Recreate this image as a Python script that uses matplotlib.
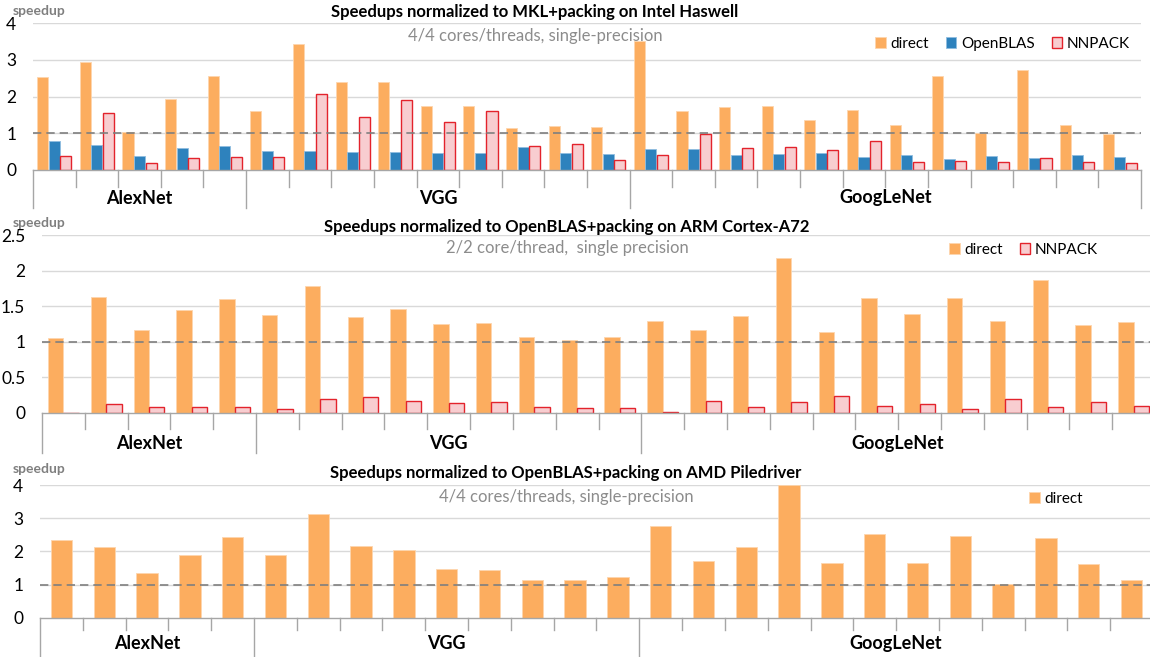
import matplotlib
matplotlib.use("Agg")
import matplotlib.pyplot as plt
import numpy as np

plt.rcParams['font.family'] = ['Lato', 'DejaVu Sans']

# 网络分组（每组的层数）
networks = ["AlexNet", "VGG", "GoogLeNet"]
layers_per_net = [5, 9, 12]

# Intel Haswell（归一化到 MKL+packing）
haswell_direct = [2.53, 2.95, 1.03, 1.94, 2.56,
                  1.61, 3.43, 2.41, 2.39, 1.75, 1.75, 1.15, 1.19, 1.17,
                  3.53, 1.62, 1.72, 1.75, 1.35, 1.64, 1.22, 2.55, 1.02, 2.72, 1.22, 0.97]
haswell_openblas = [0.79, 0.68, 0.39, 0.60, 0.65,
                    0.51, 0.51, 0.48, 0.49, 0.46, 0.47, 0.63, 0.45, 0.43,
                    0.57, 0.58, 0.41, 0.44, 0.46, 0.35, 0.41, 0.29, 0.38, 0.33, 0.41, 0.36]
haswell_nnpack = [0.37, 1.56, 0.18, 0.32, 0.36,
                  0.35, 2.06, 1.44, 1.91, 1.30, 1.61, 0.65, 0.71, 0.26,
                  0.41, 0.99, 0.61, 0.63, 0.54, 0.78, 0.22, 0.25, 0.21, 0.32, 0.23, 0.18]

# ARM Cortex-A72（归一化到 OpenBLAS+packing）
arm_direct = [1.05, 1.63, 1.16, 1.45, 1.60,
              1.37, 1.79, 1.35, 1.46, 1.25, 1.26, 1.07, 1.03, 1.07,
              1.29, 1.17, 1.36, 2.18, 1.14, 1.62, 1.39, 1.62, 1.29, 1.87, 1.24, 1.28]
arm_nnpack = [0.0, 0.12, 0.085, 0.075, 0.08,
              0.05, 0.20, 0.22, 0.17, 0.13, 0.15, 0.075, 0.066, 0.06,
              0.005, 0.17, 0.08, 0.15, 0.24, 0.09, 0.12, 0.05, 0.19, 0.075, 0.15, 0.09]

# AMD Piledriver（归一化到 OpenBLAS+packing）
amd_direct = [2.35, 2.13, 1.34, 1.88, 2.43,
              1.89, 3.12, 2.15, 2.03, 1.48, 1.44, 1.13, 1.13, 1.24,
              2.76, 1.71, 2.12, 4.0, 1.66, 2.52, 1.64, 2.46, 1.03, 2.41, 1.62, 1.14]

W, H = 1150, 657
C_DIRECT = "#fcad5f"
C_OPENBLAS = "#2e82bd"
C_NN_FACE = "#f8cdd0"
C_NN_EDGE = "#e3232c"
GRAY = "#7f7f7f"


def make_axes(fig, left, right, top, bottom):
    return fig.add_axes([left / W, 1 - bottom / H, (right - left) / W, (bottom - top) / H])


def style_panel(ax, ymax, yticks, yticklabels, px_h, tick_d, group_d, label_d):
    n = sum(layers_per_net)
    ax.set_xlim(0, n)
    ax.set_ylim(0, ymax)
    for s in ["top", "right", "left"]:
        ax.spines[s].set_visible(False)
    ax.spines["bottom"].set_color("#a6a6a6")
    ax.spines["bottom"].set_linewidth(1.0)
    ax.set_xticks([])
    ax.set_yticks(yticks)
    ax.set_yticklabels(yticklabels, fontsize=12.5)
    ax.tick_params(axis="y", length=0, pad=12)
    for y in yticks[1:]:
        ax.axhline(y, color="#d9d9d9", lw=1, zorder=0)
    ax.axhline(1, color=GRAY, lw=1.2, ls=(0, (5, 3)), zorder=3)

    # 多级类别轴
    tr = ax.get_xaxis_transform()
    bounds = np.concatenate([[0], np.cumsum(layers_per_net)])
    for i in range(n + 1):
        d = group_d if i in bounds else tick_d
        ax.plot([i, i], [0, -d / px_h], transform=tr, color="#a6a6a6", lw=1, clip_on=False)
    for k, name in enumerate(networks):
        xc = (bounds[k] + bounds[k + 1]) / 2
        ax.text(xc, -label_d / px_h, name, transform=tr, ha="center", va="center",
                fontsize=13, fontweight="bold")


def add_titles(fig, xc, y_speed, y_title, y_sub, title, subtitle):
    fig.text(13 / W, 1 - y_speed / H, "speedup", fontsize=10, fontweight="bold",
             color=GRAY, va="center", ha="left")
    fig.text(xc / W, 1 - y_title / H, title, fontsize=12, fontweight="bold",
             va="center", ha="center")
    fig.text(xc / W, 1 - y_sub / H, subtitle, fontsize=12, color="#8c8c8c",
             va="center", ha="center")


fig = plt.figure(figsize=(W / 100, H / 100), dpi=100)
x = np.arange(sum(layers_per_net)) + 0.5

# ---- Intel Haswell ----
ax1 = make_axes(fig, 33, 1141, 23.3, 170)
bw = 0.26
ax1.bar(x - 0.27, haswell_direct, bw, color=C_DIRECT, edgecolor="#fdd6ae", lw=0.6, label="direct", zorder=2)
ax1.bar(x, haswell_openblas, bw, color=C_OPENBLAS, edgecolor="#8fbde0", lw=0.6, label="OpenBLAS", zorder=2)
ax1.bar(x + 0.27, haswell_nnpack, bw, color=C_NN_FACE, edgecolor=C_NN_EDGE, lw=1, label="NNPACK", zorder=2)
style_panel(ax1, 4, [0, 1, 2, 3, 4], ["0", "1", "2", "3", "4"], 146.7, 17, 38, 28)
add_titles(fig, 535, 11, 12, 36, "Speedups normalized to MKL+packing on Intel Haswell",
           "4/4 cores/threads, single-precision")
ax1.legend(loc="center right", bbox_to_anchor=(1130 / W, 1 - 44 / H), bbox_transform=fig.transFigure,
           ncol=3, frameon=False, fontsize=11, handlelength=0.7, handleheight=0.7,
           handletextpad=0.3, columnspacing=1.1, borderpad=0, borderaxespad=0)

# ---- ARM Cortex-A72 ----
ax2 = make_axes(fig, 42, 1155, 235.3, 412.7)
bw = 0.36
ax2.bar(x - 0.18, arm_direct, bw, color=C_DIRECT, edgecolor="#fdd6ae", lw=0.6, label="direct", zorder=2)
ax2.bar(x + 0.18, arm_nnpack, bw, color=C_NN_FACE, edgecolor=C_NN_EDGE, lw=1, label="NNPACK", zorder=2)
style_panel(ax2, 2.5, [0, 0.5, 1, 1.5, 2, 2.5], ["0", "0.5", "1", "1.5", "2", "2.5"], 177.4, 16, 40, 31)
add_titles(fig, 567, 223, 227, 248, "Speedups normalized to OpenBLAS+packing on ARM Cortex-A72",
           "2/2 core/thread,  single precision")
ax2.legend(loc="center right", bbox_to_anchor=(1098 / W, 1 - 250 / H), bbox_transform=fig.transFigure,
           ncol=2, frameon=False, fontsize=11, handlelength=0.7, handleheight=0.7,
           handletextpad=0.3, columnspacing=1.1, borderpad=0, borderaxespad=0)

# ---- AMD Piledriver ----
ax3 = make_axes(fig, 40, 1153, 485, 617.7)
ax3.bar(x, amd_direct, 0.5, color=C_DIRECT, edgecolor="#fdd6ae", lw=0.6, label="direct", zorder=2)
style_panel(ax3, 4, [0, 1, 2, 3, 4], ["0", "1", "2", "3", "4"], 132.7, 12, 40, 26)
add_titles(fig, 566, 469, 473, 497, "Speedups normalized to OpenBLAS+packing on AMD Piledriver",
           "4/4 cores/threads, single-precision")
ax3.legend(loc="center right", bbox_to_anchor=(1083 / W, 1 - 499 / H), bbox_transform=fig.transFigure,
           ncol=1, frameon=False, fontsize=11, handlelength=0.7, handleheight=0.7,
           handletextpad=0.3, borderpad=0, borderaxespad=0)

fig.savefig("out.png", dpi=100, facecolor="white")
